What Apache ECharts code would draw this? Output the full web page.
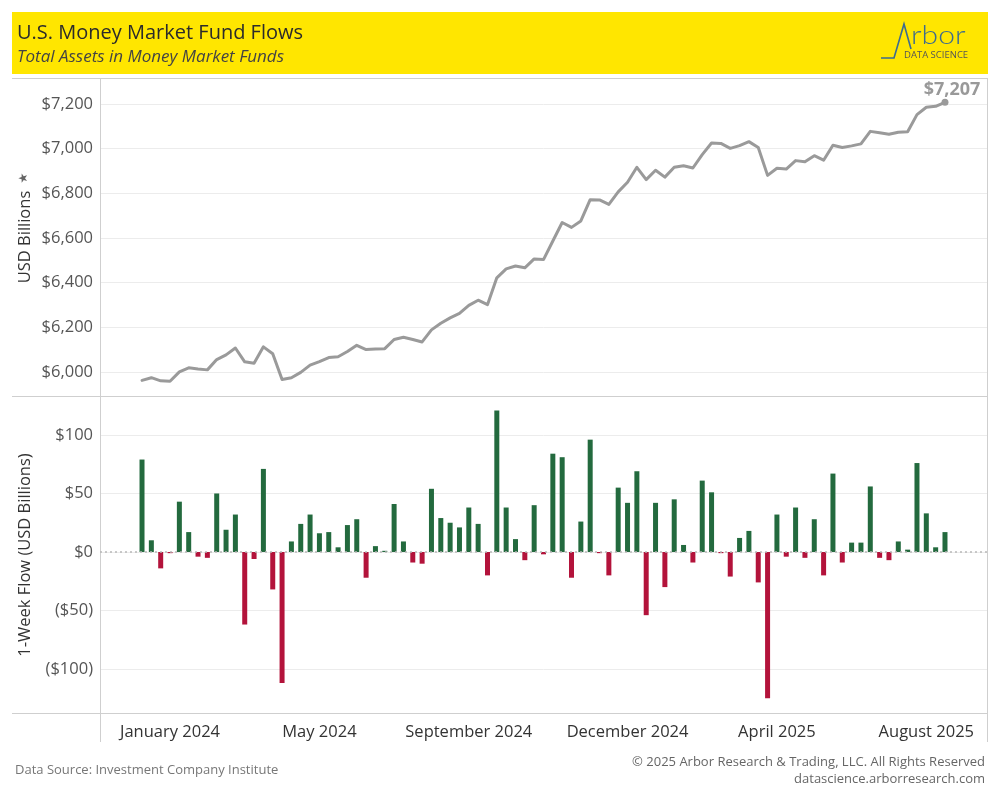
<!DOCTYPE html>
<html><head><meta charset="utf-8">
<script src="https://cdn.jsdelivr.net/npm/echarts@6.0.0/dist/echarts.min.js"></script>
<style>html,body{margin:0;padding:0;background:#fff}#c{width:1000px;height:800px}</style>
</head><body><div id="c"></div>
<script>
// Weekly data (week ending Wednesday), USD billions
const firstWeek = '2024-01-03';
const weekCount = 87;
const weeks = [];
(function(){ const d = new Date(firstWeek + 'T00:00:00Z'); for (let i = 0; i < weekCount; i++) { weeks.push(d.toISOString().slice(0,10)); d.setUTCDate(d.getUTCDate() + 7); } })();

const totalAssets = [
  5962, 5974, 5960, 5958, 6000, 6018, 6013, 6009, 6055, 6076,
  6107, 6045, 6039, 6112, 6081, 5966, 5974, 5998, 6030, 6046,
  6064, 6068, 6091, 6119, 6100, 6103, 6104, 6145, 6155, 6145,
  6134, 6188, 6218, 6242, 6262, 6298, 6321, 6301, 6421, 6461,
  6474, 6466, 6506, 6503, 6586, 6669, 6647, 6676, 6771, 6770,
  6750, 6806, 6849, 6916, 6861, 6903, 6872, 6916, 6923, 6913,
  6973, 7025, 7023, 7001, 7013, 7031, 7005, 6880, 6912, 6908,
  6946, 6941, 6968, 6948, 7015, 7005, 7012, 7021, 7077, 7071,
  7064, 7073, 7075, 7152, 7185, 7189, 7207
];

const weeklyFlow = [
  79, 10, -14, -1, 43, 17, -4, -5, 50, 19,
  32, -62, -6, 71, -32, -112, 9, 24, 32, 16,
  17, 4, 23, 28, -22, 5, 1, 41, 9, -9,
  -10, 54, 29, 25, 21, 38, 24, -20, 121, 38,
  11, -7, 40, -2, 84, 81, -22, 26, 96, -1,
  -20, 55, 42, 69, -54, 42, -30, 45, 6, -9,
  61, 51, -1, -21, 12, 18, -26, -125, 32, -4,
  38, -5, 28, -20, 67, -9, 8, 8, 56, -5,
  -7, 9, 2, 76, 33, 4, 17
];

const xTickLabels = ['January 2024', 'May 2024', 'September 2024', 'December 2024', 'April 2025', 'August 2025'];
const xTickWeekIdx = [3, 19, 35, 52, 68, 84];

// ---- build ----
const PAD = 4;
const padL = Array.from({length: PAD}, (_, i) => 'padL' + i);
const padR = Array.from({length: PAD}, (_, i) => 'padR' + i);
const cats = padL.concat(weeks, padR);
const tickMap = {};
xTickWeekIdx.forEach((w, i) => { tickMap[w + PAD] = xTickLabels[i]; });

const GREEN = '#236a3e', RED = '#b3133b', LINE = '#9a9a9a', FRAME = '#cfcfcf', GRID = '#ececec';
const F = 'Open Sans';

const lineData = Array(PAD).fill('-').concat(totalAssets.map((v, i) => {
  if (i === totalAssets.length - 1) {
    return { value: v, symbol: 'circle', symbolSize: 7,
      label: { show: true, position: 'top', distance: 2, offset: [7, 2], formatter: '$' + v.toLocaleString('en-US'),
        color: '#999', fontSize: 18, fontWeight: 'bold', fontFamily: F } };
  }
  return { value: v, symbol: 'none' };
}));
const barData = Array(PAD).fill('-').concat(weeklyFlow.map(v => ({ value: v, itemStyle: { color: v >= 0 ? GREEN : RED } })));

const fmtTop = v => '$' + Math.round(v).toLocaleString('en-US');
const fmtBot = v => v === 0 ? '$0' : (v < 0 ? '($' + (-v) + ')' : '$' + v);

const labelStyle = { color: '#555', fontSize: 16.5, fontFamily: F };

const chart = echarts.init(document.getElementById('c'), null, { renderer: 'canvas' });
chart.setOption({
  animation: false,
  backgroundColor: '#fff',
  grid: [
    { left: 100, right: 13, top: 80, height: 316, containLabel: false },
    { left: 100, right: 13, top: 396, height: 317, containLabel: false }
  ],
  xAxis: [
    { type: 'category', gridIndex: 0, data: cats, boundaryGap: true, show: false },
    { type: 'category', gridIndex: 1, data: cats, boundaryGap: true,
      axisLine: { show: false }, axisTick: { show: false }, splitLine: { show: false },
      axisLabel: { interval: (idx) => tickMap[idx] !== undefined, formatter: (val, idx) => tickMap[idx] || '',
        color: '#333', fontSize: 16.5, fontFamily: F, margin: 11 } }
  ],
  yAxis: [
    { type: 'value', gridIndex: 0, min: 5892, max: 7307, splitNumber: 7,
      axisLine: { show: false }, axisTick: { show: false },
      axisLabel: Object.assign({ formatter: fmtTop, showMinLabel: false, showMaxLabel: false, margin: 7 }, labelStyle),
      splitLine: { show: true, showMinLine: false, showMaxLine: false, lineStyle: { color: GRID, width: 1 } } },
    { type: 'value', gridIndex: 1, min: -137.6, max: 133.3, splitNumber: 5,
      axisLine: { show: false }, axisTick: { show: false },
      axisLabel: Object.assign({ formatter: fmtBot, showMinLabel: false, showMaxLabel: false, margin: 7 }, labelStyle),
      splitLine: { show: true, showMinLine: false, showMaxLine: false, lineStyle: { color: GRID, width: 1 } } }
  ],
  series: [
    { type: 'line', xAxisIndex: 0, yAxisIndex: 0, data: lineData, showSymbol: true, symbol: 'none',
      itemStyle: { color: LINE }, lineStyle: { color: LINE, width: 3, join: 'round', cap: 'round' },
      connectNulls: false, z: 3 },
    { type: 'bar', xAxisIndex: 1, yAxisIndex: 1, data: barData, barWidth: 5,
      markLine: { silent: true, symbol: 'none', label: { show: false },
        lineStyle: { color: '#b8b8b8', type: [2, 3], width: 1.5 }, data: [{ yAxis: 0 }] }, z: 3 }
  ],
  graphic: [
    { type: 'rect', shape: { x: 12, y: 12, width: 976, height: 62 }, style: { fill: '#FFE600' }, z: 10 },
    { type: 'text', x: 17, y: 33, style: { text: 'U.S. Money Market Fund Flows', fill: '#2b2b2b', font: '20px "Open Sans"', textVerticalAlign: 'middle' }, z: 11 },
    { type: 'text', x: 17, y: 57, style: { text: 'Total Assets in Money Market Funds', fill: '#444', font: 'italic 17px "Open Sans"', textVerticalAlign: 'middle' }, z: 11 },
    // logo
    { type: 'polyline', shape: { points: [[881, 58], [894, 58], [904, 24], [911, 49]] }, style: { stroke: '#3d6b8f', lineWidth: 1.6, fill: null }, z: 11 },
    { type: 'text', x: 911, y: 48, scaleX: 1.2, style: { text: 'rbor', fill: '#3d6b8f', font: '300 25px Lato', textVerticalAlign: 'bottom' }, z: 11 },
    { type: 'text', x: 904, y: 55, style: { text: 'DATA SCIENCE', fill: '#555', font: '9.5px "Open Sans"', textVerticalAlign: 'middle' }, z: 11 },
    // frame lines
    { type: 'line', shape: { x1: 12, y1: 78.5, x2: 988, y2: 78.5 }, style: { stroke: FRAME, lineWidth: 1 }, z: 5 },
    { type: 'line', shape: { x1: 12, y1: 396.5, x2: 988, y2: 396.5 }, style: { stroke: FRAME, lineWidth: 1 }, z: 5 },
    { type: 'line', shape: { x1: 12, y1: 713.5, x2: 988, y2: 713.5 }, style: { stroke: FRAME, lineWidth: 1 }, z: 5 },
    { type: 'line', shape: { x1: 100.5, y1: 78, x2: 100.5, y2: 742 }, style: { stroke: FRAME, lineWidth: 1 }, z: 5 },
    { type: 'line', shape: { x1: 987.5, y1: 78, x2: 987.5, y2: 742 }, style: { stroke: FRAME, lineWidth: 1 }, z: 5 },
    // axis titles
    { type: 'text', x: 25, y: 237, rotation: Math.PI / 2, style: { text: 'USD Billions', fill: '#333', font: '16.5px "Open Sans"', textAlign: 'center', textVerticalAlign: 'middle' }, z: 11 },
    { type: 'text', x: 24, y: 178, rotation: Math.PI / 2, style: { text: '★', fill: '#666', font: '12px "DejaVu Sans"', textAlign: 'center', textVerticalAlign: 'middle' }, z: 11 },
    { type: 'text', x: 25, y: 555, rotation: Math.PI / 2, style: { text: '1-Week Flow (USD Billions)', fill: '#333', font: '16.5px "Open Sans"', textAlign: 'center', textVerticalAlign: 'middle' }, z: 11 },
    // footer
    { type: 'text', x: 15, y: 770, style: { text: 'Data Source: Investment Company Institute', fill: '#777', font: '13px "Open Sans"', textVerticalAlign: 'middle' }, z: 11 },
    { type: 'text', x: 985, y: 762, style: { text: '© 2025 Arbor Research & Trading, LLC. All Rights Reserved', fill: '#666', font: '13px "Open Sans"', textAlign: 'right', textVerticalAlign: 'middle' }, z: 11 },
    { type: 'text', x: 985, y: 779, style: { text: 'datascience.arborresearch.com', fill: '#666', font: '13px "Open Sans"', textAlign: 'right', textVerticalAlign: 'middle' }, z: 11 }
  ]
});
</script></body></html>
